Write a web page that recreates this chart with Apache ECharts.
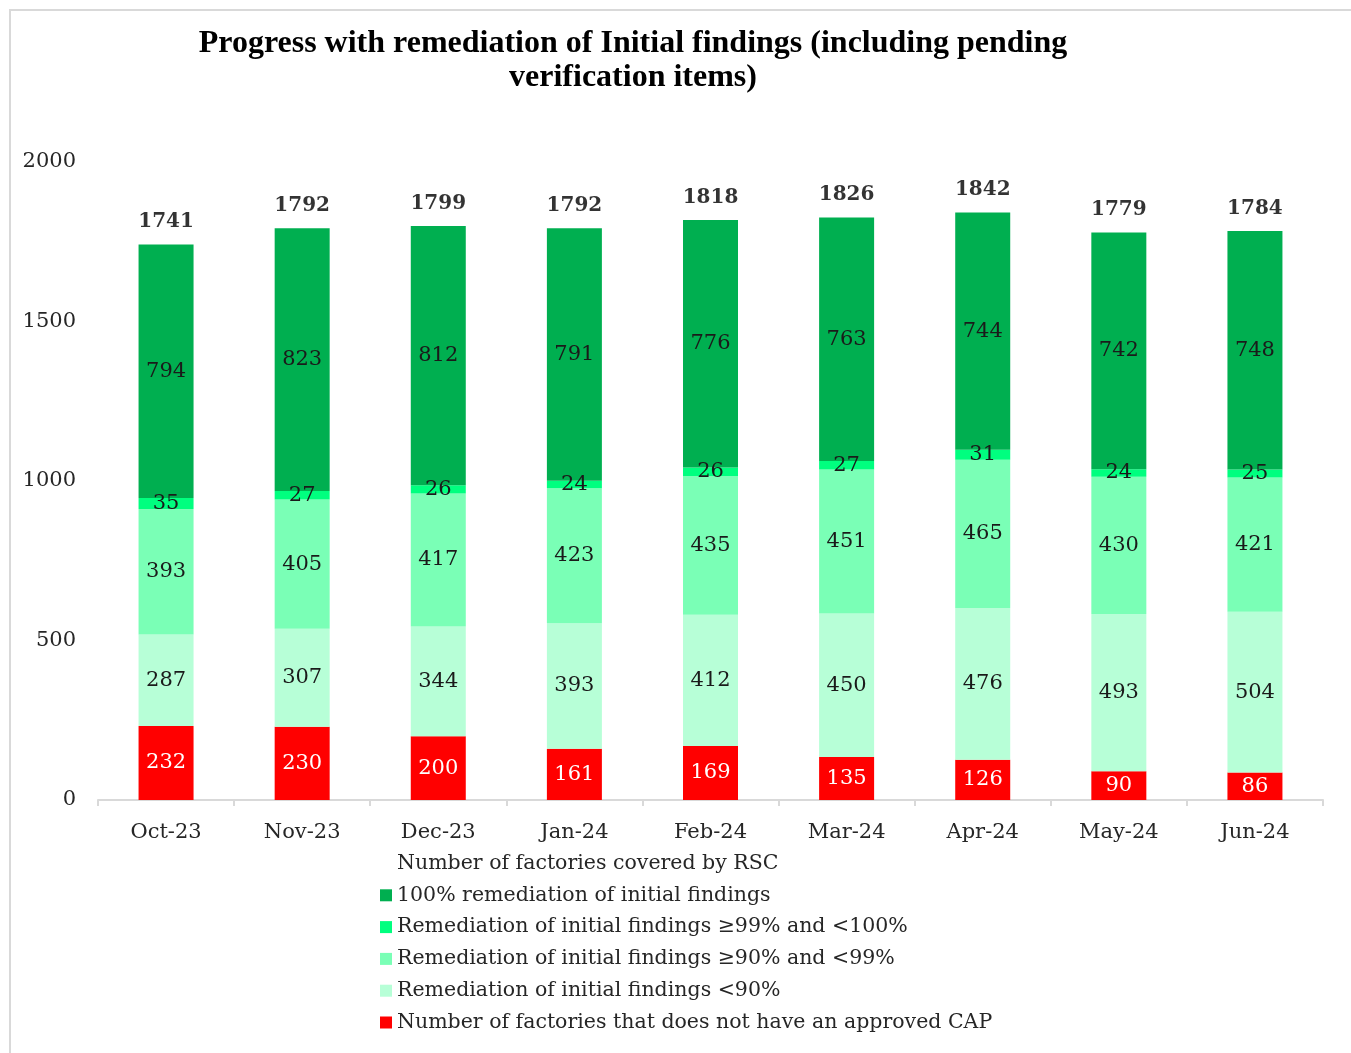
<!DOCTYPE html>
<html><head><meta charset="utf-8">
<script src="https://cdn.jsdelivr.net/npm/echarts@6/dist/echarts.min.js"></script>
<style>html,body{margin:0;padding:0;background:#fff}#c{width:1351px;height:1053px}</style>
</head><body><div id="c"></div>
<script>
const categories = ['Oct-23','Nov-23','Dec-23','Jan-24','Feb-24','Mar-24','Apr-24','May-24','Jun-24'];
const noCAP      = [232,230,200,161,169,135,126,90,86];
const below90    = [287,307,344,393,412,450,476,493,504];
const r90to99    = [393,405,417,423,435,451,465,430,421];
const r99to100   = [35,27,26,24,26,27,31,24,25];
const full100    = [794,823,812,791,776,763,744,742,748];
const yTicks = {min:0, max:2000, interval:500};

const totals = categories.map((_, i) => noCAP[i] + below90[i] + r90to99[i] + r99to100[i] + full100[i]);

const FONT = 'DejaVu Serif';
const names = {
  total: 'Number of factories covered by RSC',
  full: '100% remediation of initial findings',
  r99: 'Remediation of initial findings \u226599% and <100%',
  r90: 'Remediation of initial findings \u226590% and <99%',
  b90: 'Remediation of initial findings <90%',
  cap: 'Number of factories that does not have an approved CAP'
};
function barSeries(name, data, color, labelColor) {
  return {
    name, type: 'bar', stack: 's', data, barWidth: 55,
    itemStyle: {color},
    label: {show: true, position: 'inside', color: labelColor, fontFamily: FONT, fontSize: 21},
    emphasis: {disabled: true}
  };
}
const chart = echarts.init(document.getElementById('c'));
chart.setOption({
  animation: false,
  backgroundColor: '#fff',
  title: {
    text: 'Progress with remediation of Initial findings (including pending\nverification items)',
    left: 628, top: 22, textAlign: 'center',
    textStyle: {fontFamily: 'Liberation Serif', fontWeight: 'bold', fontSize: 32, lineHeight: 34, color: '#000'}
  },
  graphic: [{type: 'rect', shape: {x: 10, y: 10, width: 1400, height: 1100}, style: {fill: 'none', stroke: '#d9d9d9', lineWidth: 2}, silent: true}],
  grid: {left: 98, right: 28, top: 162, bottom: 253},
  legend: {
    orient: 'vertical', left: 375, top: 848, itemWidth: 12, itemHeight: 12, itemGap: 10.8,
    selectedMode: false,
    textStyle: {fontFamily: FONT, fontSize: 20.5, lineHeight: 21, color: '#262626'},
    data: [
      {name: names.total, icon: 'rect'},
      {name: names.full, icon: 'rect'},
      {name: names.r99, icon: 'rect'},
      {name: names.r90, icon: 'rect'},
      {name: names.b90, icon: 'rect'},
      {name: names.cap, icon: 'rect'}
    ]
  },
  xAxis: {
    type: 'category', data: categories,
    axisLine: {lineStyle: {color: '#d9d9d9', width: 2}},
    axisTick: {show: true, length: 6, lineStyle: {color: '#d9d9d9', width: 2}},
    axisLabel: {fontFamily: FONT, fontSize: 21, color: '#262626', margin: 22}
  },
  yAxis: {
    type: 'value', min: yTicks.min, max: yTicks.max, interval: yTicks.interval,
    splitLine: {show: false}, axisLine: {show: false}, axisTick: {show: false},
    axisLabel: {fontFamily: FONT, fontSize: 21, color: '#262626', margin: 22, formatter: v => String(v)}
  },
  series: [
    barSeries(names.cap, noCAP, '#FF0000', '#ffffff'),
    barSeries(names.b90, below90, '#B7FFD7', '#1a1a1a'),
    barSeries(names.r90, r90to99, '#7AFFB6', '#1a1a1a'),
    barSeries(names.r99, r99to100, '#00FF7F', '#1a1a1a'),
    barSeries(names.full, full100, '#00AF50', '#1a1a1a'),
    {
      name: names.total, type: 'scatter', data: totals, symbolSize: 1,
      itemStyle: {color: 'rgba(0,0,0,0)'},
      label: {show: true, position: 'top', distance: 12, color: '#000', fontFamily: FONT, fontWeight: 'bold', fontSize: 20},
      emphasis: {disabled: true}, z: 10
    }
  ]
});
</script></body></html>
